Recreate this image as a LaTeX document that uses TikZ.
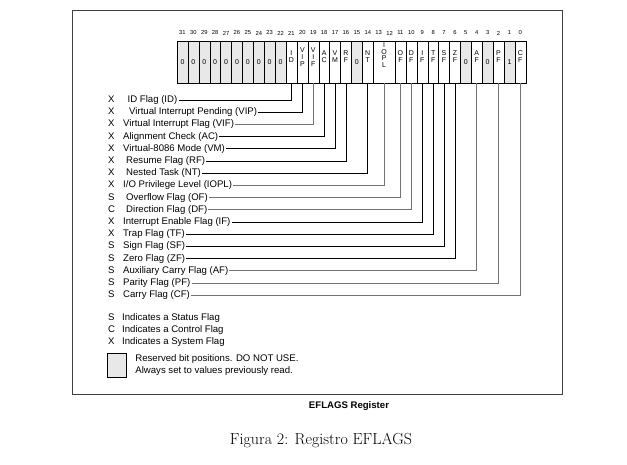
\documentclass[tikz,border=0pt]{standalone}
\usepackage{fontspec}
\setsansfont{Liberation Sans}
\usetikzlibrary{positioning}

\begin{document}
\begin{tikzpicture}[x=1pt,y=-1pt,
  bit/.style={draw, minimum width=10.9pt, minimum height=42pt, inner sep=0pt, font=\sffamily\fontsize{7}{7}\selectfont},
  resv/.style={bit, fill=gray!18},
  ftxt/.style={inner sep=0pt, align=center, font=\sffamily\fontsize{7}{7}\selectfont},
  num/.style={inner sep=0pt, font=\sffamily\fontsize{5.8}{6}\selectfont},
  lab/.style={anchor=west, inner sep=1pt, font=\sffamily\fontsize{9.6}{11}\selectfont},
  link/.style={line width=0.7pt},
  linkg/.style={link, black!55},
]
\useasboundingbox (0,0) rectangle (627,464);

% marco
\draw[black!75, line width=1pt] (72,10) rectangle (562,394);

% numeros de bit
\foreach \i in {0,...,31}
  \node[num] at ({520.35-10.9*\i},33) {\i};

% bits reservados
\foreach \i in {31,30,...,22,15,5,3}
  \node[resv] (b\i) at ({520.35-10.9*\i},62) {0};
\node[resv] (b1) at ({520.35-10.9},62) {1};

% bits con bandera
\foreach \i/\txt in {21/{I\\D}, 20/{V\\I\\P}, 19/{V\\I\\F}, 18/{A\\C}, 17/{V\\M}, 16/{R\\F},
    14/{N\\T}, 11/{O\\F}, 10/{D\\F}, 9/{I\\F}, 8/{T\\F}, 7/{S\\F}, 6/{Z\\F}, 4/{A\\F}, 2/{P\\F}, 0/{C\\F}}{
  \node[bit] (b\i) at ({520.35-10.9*\i},62) {};
  \node[ftxt] at ([yshift=5pt]b\i.center) {\txt};
}
\node[bit, minimum width=21.8pt] (b12) at (384.1,62) {};
\node[ftxt, font=\sffamily\fontsize{7}{6.5}\selectfont] at ([yshift=7pt]b12.center) {I\\O\\P\\L};

% banderas
\node[lab] (lid)   at (107,100)   {\makebox[15pt][l]{X}\hspace{4.5pt}ID Flag (ID)};
\node[lab] (lvip)  at (107,112.2) {\makebox[15pt][l]{X}\hspace{6pt}Virtual Interrupt Pending (VIP)};
\node[lab] (lvif)  at (107,124.4) {\makebox[15pt][l]{X}Virtual Interrupt Flag (VIF)};
\node[lab] (lac)   at (107,136.6) {\makebox[15pt][l]{X}Alignment Check (AC)};
\node[lab] (lvm)   at (107,148.8) {\makebox[15pt][l]{X}Virtual-8086 Mode (VM)};
\node[lab] (lrf)   at (107,161)   {\makebox[15pt][l]{X}\hspace{3pt}Resume Flag (RF)};
\node[lab] (lnt)   at (107,173.2) {\makebox[15pt][l]{X}\hspace{3pt}Nested Task (NT)};
\node[lab] (liopl) at (107,185.4) {\makebox[15pt][l]{X}I/O Privilege Level (IOPL)};
\node[lab] (lof)   at (107,197.6) {\makebox[15pt][l]{S}\hspace{3pt}Overflow Flag (OF)};
\node[lab] (ldf)   at (107,209.8) {\makebox[15pt][l]{C}\hspace{3pt}Direction Flag (DF)};
\node[lab] (lif)   at (107,222)   {\makebox[15pt][l]{X}Interrupt Enable Flag (IF)};
\node[lab] (ltf)   at (107,234.2) {\makebox[15pt][l]{X}Trap Flag (TF)};
\node[lab] (lsf)   at (107,246.4) {\makebox[15pt][l]{S}Sign Flag (SF)};
\node[lab] (lzf)   at (107,258.6) {\makebox[15pt][l]{S}Zero Flag (ZF)};
\node[lab] (laf)   at (107,270.8) {\makebox[15pt][l]{S}Auxiliary Carry Flag (AF)};
\node[lab] (lpf)   at (107,283)   {\makebox[15pt][l]{S}Parity Flag (PF)};
\node[lab] (lcf)   at (107,295.2) {\makebox[15pt][l]{S}Carry Flag (CF)};

\foreach \l/\b in {lid/b21, lvip/b20, lac/b18, lvm/b17, lrf/b16, lnt/b14, lif/b9, ltf/b8, lsf/b7, lzf/b6}
  \draw[link] (\l.east) -| (\b.south);
\foreach \l/\b in {lvif/b19, liopl/b12, lof/b11, ldf/b10, laf/b4, lpf/b2, lcf/b0}
  \draw[linkg] (\l.east) -| (\b.south);

% leyenda
\node[lab] (ls) at (107,318) {\makebox[14pt][l]{S}Indicates a Status Flag};
\node[lab] (lc) at (107,330) {\makebox[14pt][l]{C}Indicates a Control Flag};
\node[lab] (lx) at (107,342) {\makebox[14pt][l]{X}Indicates a System Flag};
\node[resv, minimum width=19pt, minimum height=24pt] (key) at (116.5,365) {};
\node[lab, right=8pt of key, align=left, font=\sffamily\fontsize{9.6}{11.3}\selectfont] (keytxt)
  {Reserved bit positions. DO NOT USE.\\Always set to values previously read.};

\node[font=\sffamily\bfseries\fontsize{9.6}{11}\selectfont] (title) at (349,406) {EFLAGS Register};
\node[font=\fontsize{16}{19}\selectfont] (cap) at (321,440) {Figura 2: Registro EFLAGS};
\end{tikzpicture}
\end{document}
